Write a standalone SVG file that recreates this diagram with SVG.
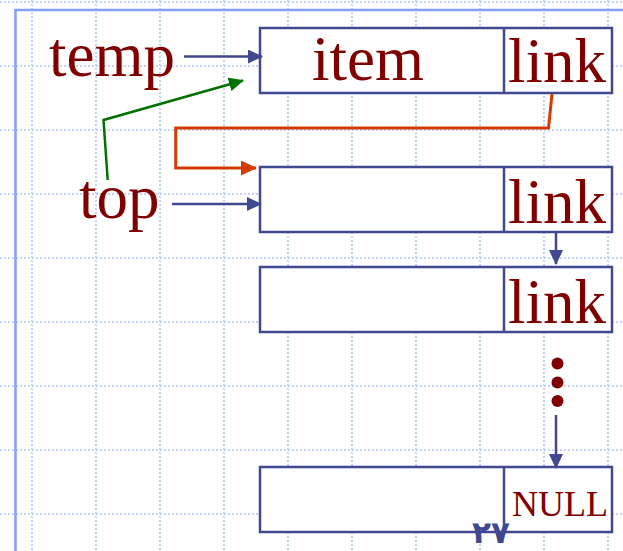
<svg xmlns="http://www.w3.org/2000/svg" width="623" height="551" viewBox="0 0 623 551">
<style>
.grid{stroke:#c4d2ff;stroke-width:2;stroke-dasharray:2 2;fill:none}
.frame{stroke:#829eff;stroke-width:2.5;fill:none}
.box{fill:#ffffff;stroke:#404890;stroke-width:2.5}
.lbl{font-family:"Liberation Serif","Times New Roman",serif;fill:#800000;font-size:63px}
.null{font-family:"Liberation Serif","Times New Roman",serif;fill:#800000;font-size:36px}
.blue{stroke:#404890;stroke-width:2.5;fill:none}
.green{stroke:#007000;stroke-width:2.5;fill:none}
.red{stroke:#d23c00;stroke-width:3;fill:none}
.pg{font-family:"DejaVu Sans",sans-serif;font-weight:bold;fill:#404890;font-size:31px}
</style>
<defs>
<marker id="ab" viewBox="0 0 15 14" refX="14" refY="7" markerWidth="15" markerHeight="14" markerUnits="userSpaceOnUse" orient="auto"><path d="M0,0 L15,7 L0,14 Z" fill="#404890"/></marker>
<marker id="ag" viewBox="0 0 15 14" refX="14" refY="7" markerWidth="15" markerHeight="14" markerUnits="userSpaceOnUse" orient="auto"><path d="M0,0 L15,7 L0,14 Z" fill="#007000"/></marker>
<marker id="ar" viewBox="0 0 16 15" refX="15" refY="7.5" markerWidth="16" markerHeight="15" markerUnits="userSpaceOnUse" orient="auto"><path d="M0,0 L16,7.5 L0,15 Z" fill="#d23c00"/></marker>
</defs>
<rect width="623" height="551" fill="#ffffff"/>
<g id="grid" class="grid">
<path d="M32,0V551M96,0V551M160,0V551M224,0V551M288,0V551M352,0V551M416,0V551M480,0V551M544,0V551M608,0V551"/>
<path d="M0,2H623M0,66H623M0,130H623M0,194H623M0,258H623M0,322H623M0,386H623M0,450H623M0,514H623"/>
</g>
<path class="frame" d="M15.5,551V10H623"/>
<g id="node-box1">
<rect class="box" x="260" y="28" width="352" height="65"/>
<line class="blue" x1="504" y1="28" x2="504" y2="93"/>
<text class="lbl" x="312" y="80">item</text>
<text class="lbl" x="508" y="82">link</text>
</g>
<g id="node-box2">
<rect class="box" x="260" y="167" width="352" height="65"/>
<line class="blue" x1="504" y1="167" x2="504" y2="232"/>
<text class="lbl" x="508" y="223">link</text>
</g>
<g id="node-box3">
<rect class="box" x="260" y="267" width="352" height="65"/>
<line class="blue" x1="504" y1="267" x2="504" y2="332"/>
<text class="lbl" x="508" y="323">link</text>
</g>
<g id="node-box4">
<rect class="box" x="260" y="467" width="352" height="65"/>
<line class="blue" x1="504" y1="467" x2="504" y2="532"/>
<text class="null" x="512" y="516">NULL</text>
</g>
<g id="node-temp"><text class="lbl" x="49" y="76">temp</text></g>
<g id="node-top"><text class="lbl" x="79" y="218">top</text></g>
<g id="dots" fill="#800000">
<circle cx="557.5" cy="363.5" r="6"/>
<circle cx="557.5" cy="382.5" r="6"/>
<circle cx="557.5" cy="401" r="6"/>
</g>
<g id="connectors">
<line class="blue" x1="184" y1="56.5" x2="262" y2="56.5" marker-end="url(#ab)"/>
<line class="blue" x1="172" y1="204" x2="261" y2="204" marker-end="url(#ab)"/>
<polyline class="green" points="107.7,180 103.5,120 243,80.5" marker-end="url(#ag)"/>
<polyline class="red" points="552,94 548.5,128 175.7,128 175.7,168 256,168" marker-end="url(#ar)"/>
<line class="blue" x1="556" y1="232" x2="556" y2="264" marker-end="url(#ab)"/>
<line class="blue" x1="556" y1="415" x2="556" y2="468" marker-end="url(#ab)"/>
</g>
<text class="pg" x="472" y="543">۲۷</text>
</svg>
